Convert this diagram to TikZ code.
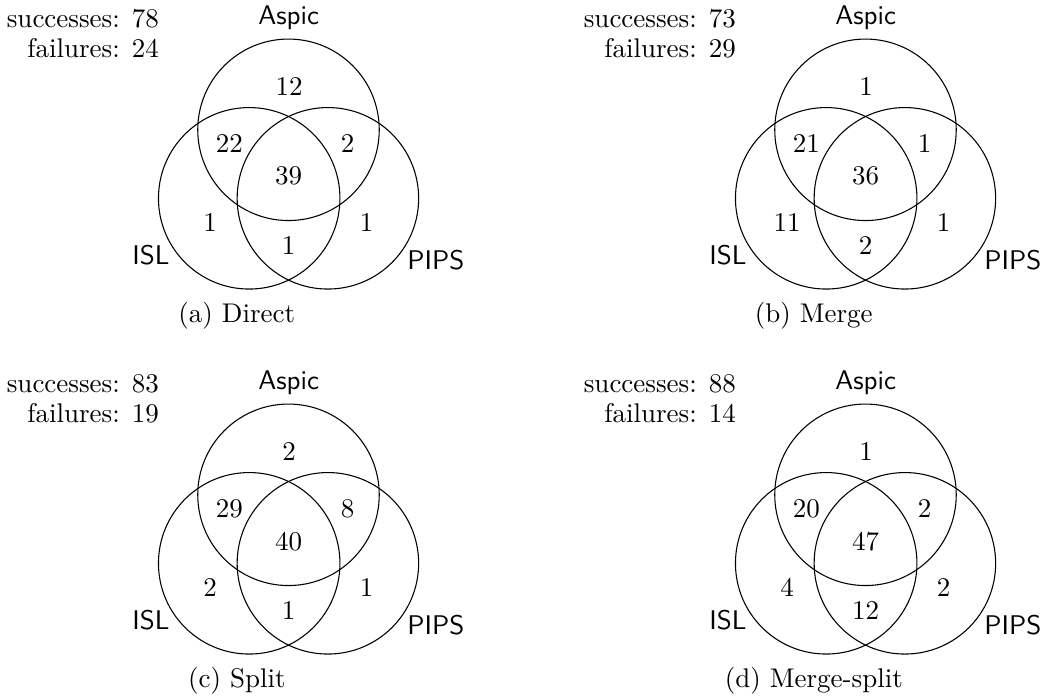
\documentclass[tikz,border=0pt]{standalone}
\begin{document}
\begin{tikzpicture}[x=0.37037pt,y=-0.37037pt]
\tikzset{
  vcirc/.style={circle, draw, line width=0.4pt, minimum size=67.22pt, inner sep=0pt},
  regnum/.style={inner sep=0pt},
  setlab/.style={font=\sffamily, anchor=base, inner sep=0pt},
  captext/.style={anchor=base, inner sep=0pt},
  stattext/.style={anchor=base east, inner sep=0pt},
}
\newcommand\VennPanel[4]{%
  \node[vcirc] (#1-aspic) at (288.5,129.8) {};
  \node[vcirc] (#1-isl) at (249.2,198.3) {};
  \node[vcirc] (#1-pips) at (327.9,198.3) {};
  \node[setlab] (#1-laspic) at (288.7,24) {Aspic};
  \node[setlab] (#1-lisl) at (151,264) {ISL};
  \node[setlab] (#1-lpips) at (435.8,269) {PIPS};
  \node[stattext] (#1-succ) at (159.4,27.3) {successes: #2};
  \node[stattext] (#1-fail) at (159.4,57.3) {failures: #3};
  \node[captext] (#1-cap) at (236.8,322.5) {#4};
}
\newcommand\VennNums[8]{%
  \node[regnum] (#1-n1) at (289,86.2) {#2};
  \node[regnum] (#1-n2) at (229.3,144) {#3};
  \node[regnum] (#1-n3) at (347.5,144) {#4};
  \node[regnum] (#1-n4) at (288.7,176.3) {#5};
  \node[regnum] (#1-n5) at (210,222.7) {#6};
  \node[regnum] (#1-n6) at (366.7,222.7) {#7};
  \node[regnum] (#1-n7) at (288.7,245.8) {#8};
}
\useasboundingbox (0,0) rectangle (1045,696);
\begin{scope}[shift={(0,0)}]
  \VennPanel{a}{78}{24}{(a) Direct}
  \VennNums{a}{12}{22}{2}{39}{1}{1}{1}
\end{scope}
\begin{scope}[shift={(577,0)}]
  \VennPanel{b}{73}{29}{(b) Merge}
  \VennNums{b}{1}{21}{1}{36}{11}{1}{2}
\end{scope}
\begin{scope}[shift={(0,365)}]
  \VennPanel{c}{83}{19}{(c) Split}
  \VennNums{c}{2}{29}{8}{40}{2}{1}{1}
\end{scope}
\begin{scope}[shift={(577,365)}]
  \VennPanel{d}{88}{14}{(d) Merge-split}
  \VennNums{d}{1}{20}{2}{47}{4}{2}{12}
\end{scope}
\end{tikzpicture}
\end{document}
